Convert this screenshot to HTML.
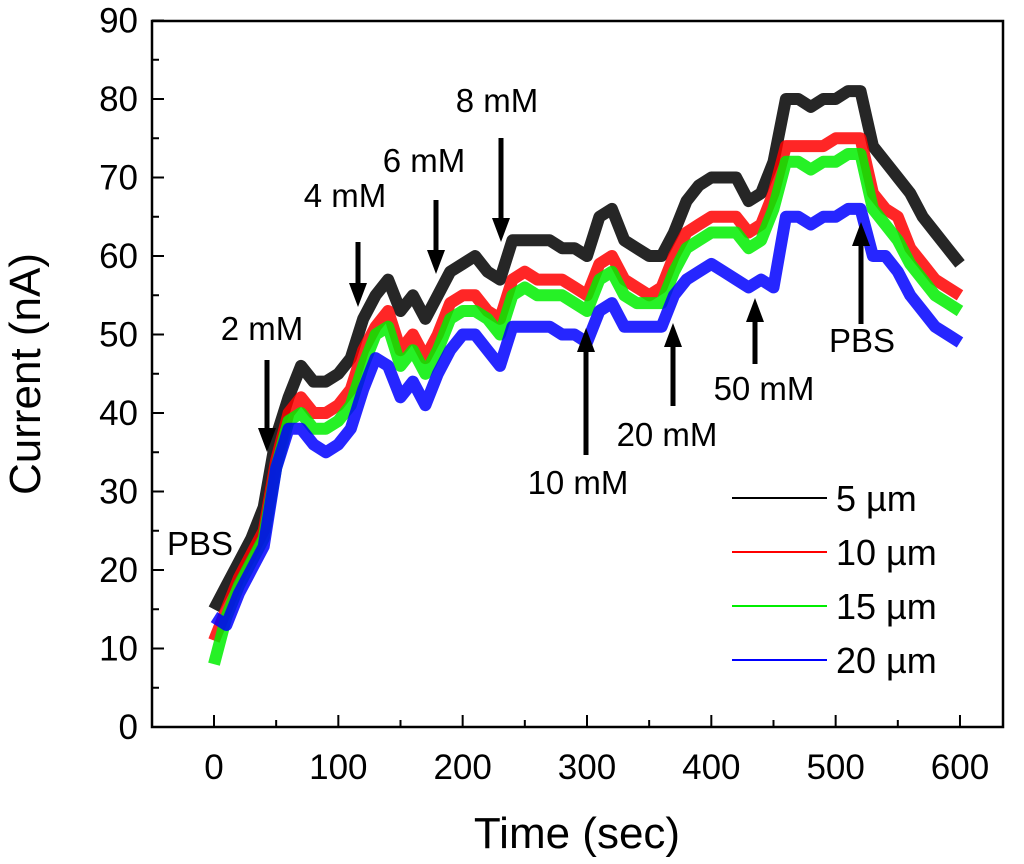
<!DOCTYPE html>
<html><head><meta charset="utf-8"><style>
body{margin:0;background:#fff;}
svg{display:block;font-family:"Liberation Sans",Arial,sans-serif;}
</style></head><body>
<svg id="chart" width="1024" height="864" viewBox="0 0 1024 864">
<g id="series"></g>
<rect x="152" y="21" width="851" height="706" fill="none" stroke="#000" stroke-width="2.5"/>
<g id="axes"></g>
<text x="577" y="848" font-size="44" text-anchor="middle">Time (sec)</text>
<text transform="translate(40,374) rotate(-90)" font-size="44" text-anchor="middle">Current (nA)</text>
<g id="annot"></g>
<g id="legend"></g>
</svg>
<script>
const times=[0,10,20,30,40,50,60,70,80,90,100,110,120,130,140,150,160,170,180,190,200,210,220,230,240,250,260,270,280,290,300,310,320,330,340,350,360,370,380,390,400,410,420,430,440,450,460,470,480,490,500,510,520,530,540,550,560,570,580,590,600];
const s5=[15,18,21,24,28,37,42,46,44,44,45,47,52,55,57,53,55,52,55,58,59,60,58,57,62,62,62,62,61,61,60,65,66,62,61,60,60,63,67,69,70,70,70,67,68,72,80,80,79,80,80,81,81,74,72,70,68,65,63,61,59];
const s10=[11,15,19,22,25,34,40,42,40,40,41,43,48,51,53,48,50,47,50,54,55,55,53,52,57,58,57,57,57,56,55,59,60,57,56,55,56,60,63,64,65,65,65,63,64,68,74,74,74,74,75,75,75,68,66,65,61,59,57,56,55];
const s15=[8,14,18,21,24,33,39,40,38,38,39,41,46,50,51,46,48,45,48,52,53,53,52,50,55,56,55,55,55,54,53,57,58,55,54,54,54,58,61,62,63,63,63,61,62,66,72,72,71,72,72,73,73,66,64,62,59,57,55,54,53];
const s20=[14,13,17,20,23,33,38,38,36,35,36,38,43,47,46,42,44,41,45,48,50,50,48,46,51,51,51,51,50,50,49,53,54,51,51,51,51,55,57,58,59,58,57,56,57,56,65,65,64,65,65,66,66,60,60,58,55,53,51,50,49];
const yTicks=[0,10,20,30,40,50,60,70,80,90];
const xTicks=[0,100,200,300,400,500,600];
const names=["5 µm","10 µm","15 µm","20 µm"];
const colors=["#000","#f00","#0e0","#00f"];
const X=t=>214+t*1.2433, Y=v=>727-v*7.85;
const NS="http://www.w3.org/2000/svg";
function mk(tag,attrs,parent){const e=document.createElementNS(NS,tag);for(const k in attrs)e.setAttribute(k,attrs[k]);parent.appendChild(e);return e;}
const sg=document.getElementById('series');
[s5,s10,s15,s20].forEach((s,i)=>{
  const d=s.map((v,j)=>(j?'L':'M')+X(times[j]).toFixed(1)+','+Y(v).toFixed(1)).join('');
  const p=mk('path',{d:d,fill:'none',stroke:colors[i],'stroke-width':12,'stroke-linejoin':'round','stroke-opacity':0.85},sg);
  
  
});
const ax=document.getElementById('axes');
yTicks.forEach(v=>{
  const l=mk('line',{x1:152,x2:164,y1:Y(v),y2:Y(v),stroke:'#000','stroke-width':2},ax);
  
  
  const t=mk('text',{x:138,y:Y(v)+12,'font-size':35,'text-anchor':'end'},ax);t.textContent=v;
  
  
  if(v<90){const m=mk('line',{x1:152,x2:159,y1:Y(v+5),y2:Y(v+5),stroke:'#000','stroke-width':2},ax);
  
  }
});
xTicks.forEach(v=>{
  const l=mk('line',{x1:X(v),x2:X(v),y1:727,y2:715,stroke:'#000','stroke-width':2},ax);
  
  
  const t=mk('text',{x:X(v),y:779,'font-size':35,'text-anchor':'middle'},ax);t.textContent=v;
  
  
  if(v<600){const m=mk('line',{x1:X(v+50),x2:X(v+50),y1:727,y2:720,stroke:'#000','stroke-width':2},ax);
  
  }
});
const an=document.getElementById('annot');
const ann=[["2 mM",262,340,267,360,452],["4 mM",345,207,358,242,307],["6 mM",424,172,436,200,274],["8 mM",497,112,501,138,242],
["10 mM",578,494,586,455,328],["20 mM",667,446,673,406,323],["50 mM",764,400,755,364,298],["PBS",862,352,861,324,222],["PBS",200,555,null]];
ann.forEach(a=>{
  const t=mk('text',{x:a[1],y:a[2],'font-size':33,'text-anchor':'middle'},an);t.textContent=a[0];
  
  
  if(a[3]==null)return;
  const x=a[3],y1=a[4],y2=a[5],dir=y2>y1?1:-1,hb=y2-dir*24;
  const g=mk('g',{},an);
  
  
  mk('line',{x1:x,x2:x,y1:y1,y2:hb,stroke:'#000','stroke-width':5},g);
  mk('polygon',{points:`${x-9},${hb} ${x+9},${hb} ${x},${y2}`,fill:'#000'},g);
});
const lg=document.getElementById('legend');
names.forEach((n,i)=>{
  const y=498+i*54;
  const l=mk('line',{x1:732,x2:827,y1:y,y2:y,stroke:colors[i],'stroke-width':2},lg);
  
  
  const t=mk('text',{x:836,y:y+13,'font-size':36},lg);t.textContent=n;
  
  
});
</script>
</body></html>
